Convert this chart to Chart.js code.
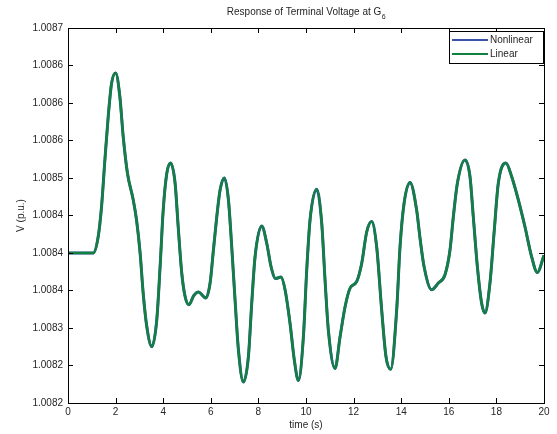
<!DOCTYPE html>
<html>
<head>
<meta charset="utf-8">
<script src="https://cdn.jsdelivr.net/npm/chart.js@4"></script>
<style>
	html, body { margin: 0; padding: 0; background: #ffffff; }
	#wrap { width: 557px; height: 434px; }
</style>
</head>
<body>
<div id="wrap"><canvas id="G6_voltage" width="557" height="434"></canvas></div>
<script>
// Terminal voltage at G6

let time_G6 = [0, 1.06, 1.27, 1.41, 1.55, 1.69, 1.83, 2.0, 2.18, 2.32, 2.5, 2.74, 2.88, 3.03, 3.16, 3.31, 3.52, 3.73, 3.87, 4.0,
	4.15, 4.31, 4.5, 4.63, 4.78, 4.92, 5.08, 5.28, 5.48, 5.79, 5.97, 6.11, 6.25, 6.39, 6.57, 6.74, 6.88, 7.02, 7.16, 7.37,
	7.58, 7.72, 7.86, 8.14, 8.35, 8.53, 8.72, 8.95, 9.12, 9.33, 9.51, 9.68, 9.89, 10.03, 10.17, 10.45, 10.66, 10.8, 10.94, 11.22,
	11.43, 11.64, 11.85, 12.13, 12.34, 12.55, 12.76, 12.97, 13.18, 13.36, 13.56, 13.81, 13.95, 14.12, 14.37, 14.65, 14.79, 14.96, 15.28, 15.56,
	15.84, 16.05, 16.19, 16.36, 16.68, 16.89, 17.03, 17.2, 17.38, 17.52, 17.73, 17.9, 18.08, 18.4, 18.64, 18.92, 19.2, 19.48, 19.72, 20];

let voltageNonlinear_G6 = [1.008400, 1.008400, 1.008422, 1.008462, 1.008524, 1.008582, 1.008626, 1.008640, 1.008608, 1.008555,
	1.008506, 1.008471, 1.008444, 1.008400, 1.008346, 1.008302, 1.008275, 1.008311, 1.008382, 1.008457,
	1.008506, 1.008520, 1.008493, 1.008435, 1.008373, 1.008342, 1.008331, 1.008343, 1.008348, 1.008340,
	1.008360, 1.008404, 1.008448, 1.008484, 1.008500, 1.008471, 1.008408, 1.008337, 1.008271, 1.008228,
	1.008262, 1.008333, 1.008395, 1.008436, 1.008413, 1.008382, 1.008366, 1.008368, 1.008351, 1.008306,
	1.008257, 1.008230, 1.008288, 1.008377, 1.008444, 1.008485, 1.008440, 1.008364, 1.008297, 1.008246,
	1.008288, 1.008328, 1.008353, 1.008362, 1.008386, 1.008428, 1.008442, 1.008408, 1.008324, 1.008262,
	1.008245, 1.008324, 1.008408, 1.008466, 1.008494, 1.008457, 1.008420, 1.008382, 1.008351, 1.008360,
	1.008371, 1.008404, 1.008448, 1.008493, 1.008524, 1.008502, 1.008448, 1.008382, 1.008333, 1.008320,
	1.008360, 1.008426, 1.008493, 1.008520, 1.008502, 1.008471, 1.008435, 1.008395, 1.008374, 1.008397];

// the linear model sits right on top of the nonlinear one in the figure
let voltageLinear_G6 = voltageNonlinear_G6.slice();

let xTicks_G6 = [0, 2, 4, 6, 8, 10, 12, 14, 16, 18, 20];
let yTickLabels_G6 = ['1.0082', '1.0082', '1.0083', '1.0084', '1.0084', '1.0084', '1.0085', '1.0086', '1.0086', '1.0086', '1.0087'];

let points_G6 = function(xs, ys) {
	let out = [];
	for (let i = 0; i < xs.length; i++) {
		out.push({ x: xs[i], y: ys[i] });
	}
	return out;
}

let textColor_G6 = '#262626';
let font_G6 = 'Liberation Sans, Arial, sans-serif';

// MATLAB style box, inward ticks on every side, title with subscript and boxed legend
let matlabBox_G6 = {
	id: 'matlabBox',
	afterDraw: function(chart) {
		let ctx = chart.ctx;
		let area = chart.chartArea;
		let xs = chart.scales.x;
		let ys = chart.scales.y;
		ctx.save();
		ctx.strokeStyle = '#000000';
		ctx.lineWidth = 1;
		ctx.beginPath();
		xs.ticks.forEach(function(t) {
			let px = Math.round(xs.getPixelForValue(t.value)) + 0.5;
			ctx.moveTo(px, area.bottom); ctx.lineTo(px, area.bottom - 5);
			ctx.moveTo(px, area.top); ctx.lineTo(px, area.top + 5);
		});
		ys.ticks.forEach(function(t) {
			let py = Math.round(ys.getPixelForValue(t.value)) + 0.5;
			ctx.moveTo(area.left, py); ctx.lineTo(area.left + 5, py);
			ctx.moveTo(area.right, py); ctx.lineTo(area.right - 5, py);
		});
		ctx.stroke();
		ctx.strokeRect(Math.round(area.left) + 0.5, Math.round(area.top) + 0.5,
			Math.round(area.right - area.left), Math.round(area.bottom - area.top));

		// title
		let main = 'Response of Terminal Voltage at G';
		ctx.fillStyle = textColor_G6;
		ctx.font = '10px ' + font_G6;
		let w1 = ctx.measureText(main).width;
		ctx.font = '7px ' + font_G6;
		let w2 = ctx.measureText('6').width;
		let cx = (area.left + area.right) / 2;
		let tx = cx - (w1 + w2) / 2;
		ctx.textBaseline = 'alphabetic';
		ctx.textAlign = 'left';
		ctx.font = '10px ' + font_G6;
		ctx.fillText(main, tx, 15);
		ctx.font = '7px ' + font_G6;
		ctx.fillText('6', tx + w1 + 0.5, 19);

		// legend
		let lx = 449, ly = 31, lw = 94, lh = 32;
		ctx.fillStyle = '#ffffff';
		ctx.fillRect(lx, ly, lw, lh);
		ctx.strokeRect(lx + 0.5, ly + 0.5, lw, lh);
		ctx.font = '10px ' + font_G6;
		ctx.textBaseline = 'middle';
		chart.data.datasets.forEach(function(ds, i) {
			let yy = ly + 9 + i * 14;
			ctx.strokeStyle = ds.borderColor;
			ctx.lineWidth = 2;
			ctx.beginPath();
			ctx.moveTo(lx + 3, yy); ctx.lineTo(lx + 39, yy);
			ctx.stroke();
			ctx.fillStyle = textColor_G6;
			ctx.fillText(ds.label, lx + 41, yy + 0.5);
		});
		ctx.restore();
	}
};

let G6_voltage = new Chart(document.getElementById('G6_voltage').getContext('2d'), {
	type: 'line',
	data: {
		datasets: [{
			label: 'Nonlinear',
			data: points_G6(time_G6, voltageNonlinear_G6),
			borderColor: '#3a55a8',
			borderWidth: 3,
			pointRadius: 0,
			fill: false,
			cubicInterpolationMode: 'monotone',
			order: 1
		},
		{
			label: 'Linear',
			data: points_G6(time_G6, voltageLinear_G6),
			borderColor: '#12803f',
			borderWidth: 2.6,
			pointRadius: 0,
			fill: false,
			cubicInterpolationMode: 'monotone',
			order: 0
		}]
	},
	options: {
		responsive: false,
		animation: false,
		devicePixelRatio: 1,
		layout: { padding: { left: 0, right: 13, top: 28, bottom: 0 } },
		plugins: {
			legend: { display: false },
			title: { display: false },
			tooltip: { enabled: false }
		},
		scales: {
			x: {
				type: 'linear',
				min: 0,
				max: 20,
				afterBuildTicks: function(scale) {
					scale.ticks = xTicks_G6.map(function(v) { return { value: v }; });
				},
				afterFit: function(scale) { scale.height = 31; },
				grid: { display: false, drawTicks: false },
				border: { display: false },
				ticks: {
					color: textColor_G6,
					font: { family: font_G6, size: 10 },
					padding: 3,
					maxRotation: 0,
					autoSkip: false
				},
				title: {
					display: true,
					text: 'time (s)',
					color: textColor_G6,
					font: { family: font_G6, size: 10 },
					padding: { top: 0, bottom: 3 }
				}
			},
			y: {
				type: 'linear',
				min: 1.0082,
				max: 1.0087,
				afterBuildTicks: function(scale) {
					let t = [];
					for (let i = 0; i < yTickLabels_G6.length; i++) {
						t.push({ value: 1.0082 + i * 0.00005 });
					}
					scale.ticks = t;
				},
				afterFit: function(scale) { scale.width = 68; },
				grid: { display: false, drawTicks: false },
				border: { display: false },
				ticks: {
					color: textColor_G6,
					font: { family: font_G6, size: 10 },
					padding: 5,
					autoSkip: false,
					callback: function(value, index) { return yTickLabels_G6[index]; }
				},
				title: {
					display: true,
					text: 'V (p.u.)',
					color: textColor_G6,
					font: { family: font_G6, size: 10 },
					padding: { top: 15, bottom: 0 }
				}
			}
		}
	},
	plugins: [matlabBox_G6]
});
</script>
</body>
</html>
